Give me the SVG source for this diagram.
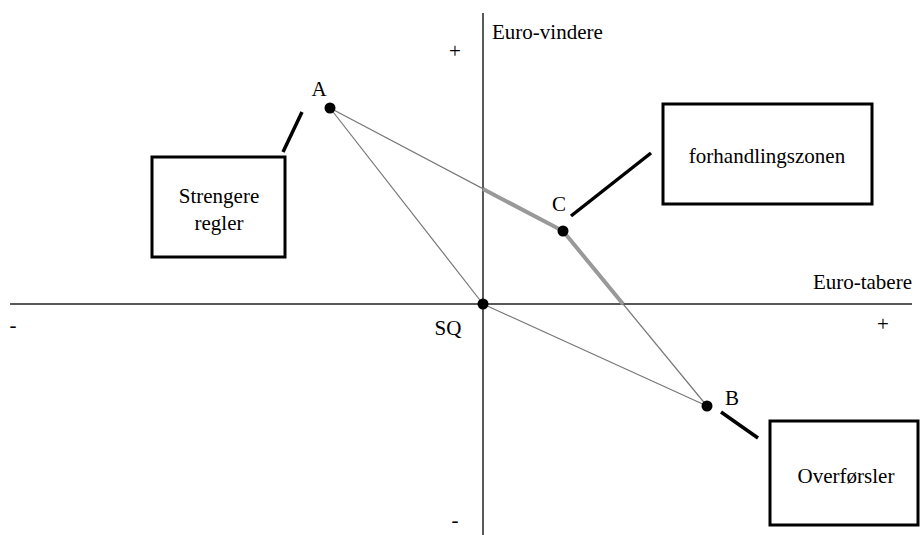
<svg xmlns="http://www.w3.org/2000/svg" width="920" height="535" viewBox="0 0 920 535">
<style>
text{font-family:"Liberation Serif","Times New Roman",serif;font-size:21px;fill:#000}
.axis{stroke:#222;stroke-width:1.5;fill:none}
.thin{stroke:#777;stroke-width:1.2;fill:none}
.thick{stroke:#999;stroke-width:4;fill:none}
.box{fill:#fff;stroke:#000;stroke-width:3}
.call{stroke:#000;stroke-width:3.5;fill:none}
.mid{text-anchor:middle}
</style>
<rect width="920" height="535" fill="#fff"/>
<g id="axes">
<line class="axis" x1="10" y1="304" x2="912" y2="304"/>
<line class="axis" x1="483" y1="13" x2="483" y2="535"/>
<text x="492" y="39">Euro-vindere</text>
<text x="912" y="289" text-anchor="end">Euro-tabere</text>
<text x="455" y="58" class="mid">+</text>
<text x="883" y="331" class="mid">+</text>
<text x="13" y="332" class="mid">-</text>
<text x="455" y="527" class="mid">-</text>
</g>
<g id="connectors">
<line class="thin" x1="330" y1="108" x2="483" y2="304"/>
<line class="thin" x1="330" y1="108" x2="563" y2="231"/>
<line class="thin" x1="563" y1="231" x2="707" y2="406"/>
<line class="thin" x1="483" y1="304" x2="707" y2="406"/>
<polyline class="thick" points="483,189 563,231 623,304"/>
<line class="call" x1="302" y1="112" x2="283" y2="152"/>
<line class="call" x1="571" y1="216" x2="651" y2="153"/>
<line class="call" x1="721" y1="412" x2="758" y2="438"/>
</g>
<g id="A"><circle cx="330" cy="108" r="5.5"/><text x="319" y="96" class="mid">A</text></g>
<g id="C"><circle cx="563" cy="231" r="5.5"/><text x="559" y="211" class="mid">C</text></g>
<g id="SQ"><circle cx="483" cy="304" r="5.5"/><text x="448" y="335" class="mid">SQ</text></g>
<g id="B"><circle cx="707" cy="406" r="5.5"/><text x="732" y="405" class="mid">B</text></g>
<g id="strengere"><rect class="box" x="152" y="157" width="133" height="100"/><text x="219" y="203" class="mid">Strengere</text><text x="219" y="230" class="mid">regler</text></g>
<g id="forhandlingszonen"><rect class="box" x="663" y="104" width="209" height="100"/><text x="767" y="163" class="mid">forhandlingszonen</text></g>
<g id="overforsler"><rect class="box" x="770" y="421" width="148" height="104"/><text x="846" y="483" class="mid">Overførsler</text></g>
</svg>
